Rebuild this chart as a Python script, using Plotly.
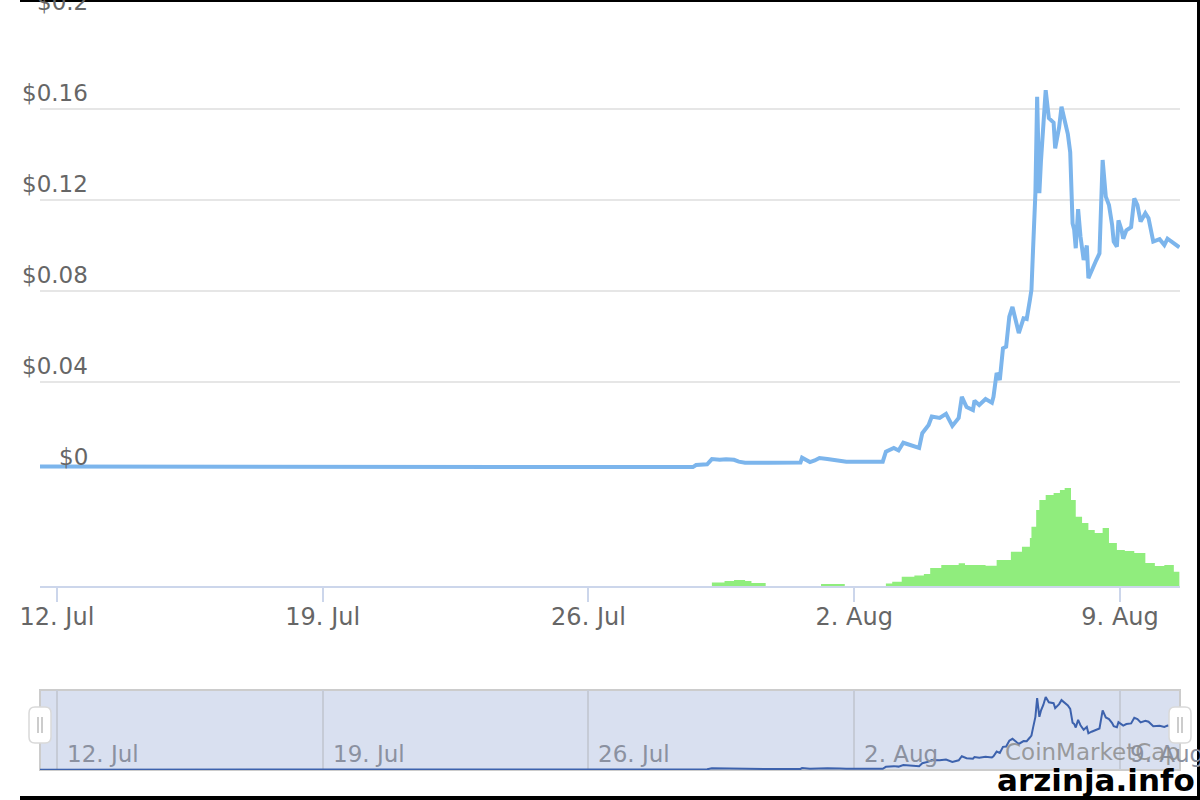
import pandas as pd
import plotly.graph_objects as go

W, H = 1200, 800
base = pd.Timestamp("2018-07-12")

# price readings (hours after 12 Jul 00:00, USD)
price_hours = [-11, 20, 60, 110, 160, 205, 260, 310, 360, 402, 404, 411, 414, 419, 423, 428,
               431, 435, 450, 470, 471, 476, 479, 482, 487, 495, 499, 522, 524, 529, 532,
               535, 540, 545, 547, 551, 553, 558, 562, 566, 570, 572, 575, 579, 580, 583,
               587, 591, 592, 594, 596, 598, 600, 602, 604, 608, 611, 613, 615, 616, 617,
               618.5, 619.6, 621, 622, 623.5, 625, 627, 630, 631, 633.5, 635, 639, 640.5,
               642, 643, 644, 645.5, 647, 649, 651, 652, 654, 657, 659, 661, 663, 665, 667,
               668, 670, 671, 673, 674, 676, 679, 681, 683, 685, 688, 690, 693, 697, 700,
               702, 706, 709.5]
price_usd = [0.0029, 0.0029, 0.0028, 0.0028, 0.0027, 0.0025, 0.0025, 0.0025, 0.0025, 0.0026,
             0.0035, 0.0038, 0.0061, 0.0058, 0.0060, 0.0058, 0.0050, 0.0045, 0.0045, 0.0046,
             0.0067, 0.0048, 0.0055, 0.0066, 0.0062, 0.0054, 0.0050, 0.0050, 0.0094, 0.0110,
             0.0099, 0.0133, 0.0123, 0.0110, 0.0175, 0.0211, 0.0248, 0.0242, 0.0260, 0.0207,
             0.0242, 0.0335, 0.0290, 0.0277, 0.0318, 0.0299, 0.0325, 0.0309, 0.0335, 0.0440,
             0.0409, 0.0548, 0.0555, 0.0687, 0.0730, 0.0615, 0.0680, 0.0677, 0.0760, 0.0805,
             0.0980, 0.1230, 0.1654, 0.1230, 0.1370, 0.1500, 0.1683, 0.1560, 0.1540, 0.1427,
             0.1520, 0.1610, 0.1490, 0.1410, 0.1097, 0.1070, 0.0988, 0.1160, 0.1040, 0.0936,
             0.1000, 0.0856, 0.0892, 0.0936, 0.0965, 0.1376, 0.1215, 0.1178, 0.1090, 0.1017,
             0.0995, 0.1110, 0.1067, 0.1030, 0.1067, 0.1081, 0.1207, 0.1178, 0.1105, 0.1142,
             0.1120, 0.1017, 0.1028, 0.1002, 0.1030, 0.1008, 0.0992]

# 24h volume readings (step start hours, USD)
vol_hours = [-11, 414, 422, 428, 435, 439, 448, 483, 498, 524, 528, 534, 542, 548, 552, 559,
             570, 574, 587, 594, 603, 610, 615, 616, 619, 621, 625, 630, 634, 637, 641, 644,
             648, 652, 656, 661, 665, 670, 675, 681, 688, 694, 700, 706, 709.5]
vol_usd = [0, 62e3, 88e3, 106e3, 88e3, 53e3, 0, 35e3, 0, 44e3, 76e3, 165e3, 186e3, 212e3,
           319e3, 372e3, 402e3, 372e3, 359e3, 460e3, 607e3, 696e3, 850e3, 1050e3, 1345e3,
           1522e3, 1611e3, 1646e3, 1699e3, 1735e3, 1522e3, 1227e3, 1115e3, 991e3, 938e3,
           1027e3, 761e3, 637e3, 619e3, 584e3, 407e3, 354e3, 372e3, 253e3, 253e3]

tick_dates = ["2018-07-12", "2018-07-19", "2018-07-26", "2018-08-02", "2018-08-09"]
tick_text = ["12. Jul", "19. Jul", "26. Jul", "2. Aug", "9. Aug"]
price_ticks = [0, 0.04, 0.08, 0.12, 0.16, 0.2]
price_tick_text = ["$0", "$0.04", "$0.08", "$0.12", "$0.16", "$0.2"]

price_time = base + pd.to_timedelta(price_hours, unit="h")
vol_time = base + pd.to_timedelta(vol_hours, unit="h")
x_range = [base + pd.Timedelta(hours=-10.7), base + pd.Timedelta(hours=709.9)]

# the page photo comes out shifted ~20px right and squeezed to 1180px wide,
# so horizontal positions are mapped back before use
SHIFT, SQUEEZE = 20, 1180 / 1200


def px(x):
    return max(0.0, (x - SHIFT) / SQUEEZE) / W


def py(y):
    return 1 - y / H


FONT = "DejaVu Sans"

fig = go.Figure()
fig.add_trace(go.Scatter(x=price_time, y=price_usd, mode="lines",
                         line=dict(color="#7cb5ec", width=4), xaxis="x", yaxis="y"))
fig.add_trace(go.Scatter(x=vol_time, y=vol_usd, mode="lines", line_shape="hv",
                         line=dict(width=0, color="#90ed7d"), fill="tozeroy",
                         fillcolor="#90ed7d", xaxis="x2", yaxis="y2"))
fig.add_trace(go.Scatter(x=price_time, y=price_usd, mode="lines",
                         line=dict(color="#3d62ad", width=2), xaxis="x3", yaxis="y3"))

dom_x = [px(40), px(1180)]
fig.update_layout(
    width=W, height=H, margin=dict(l=0, r=0, t=0, b=0),
    paper_bgcolor="white", plot_bgcolor="rgba(0,0,0,0)", showlegend=False,
    font=dict(family=FONT, color="#666666"),
    xaxis=dict(domain=dom_x, anchor="y", range=x_range, showticklabels=False,
               showgrid=False, zeroline=False, showline=False, ticks=""),
    yaxis=dict(domain=[py(473), py(18)], anchor="x", range=[0, 0.2], tickvals=price_ticks,
               showticklabels=False, showgrid=True, gridcolor="#e6e6e6", gridwidth=2,
               zeroline=False, showline=False, ticks=""),
    xaxis2=dict(domain=dom_x, anchor="y2", range=x_range, tickvals=tick_dates,
                ticktext=tick_text, showgrid=False, zeroline=False, showline=True,
                linecolor="#ccd6eb", linewidth=2, ticks="outside", ticklen=14,
                tickcolor="#ccd6eb", tickwidth=2, ticklabelstandoff=-6,
                tickfont=dict(size=24, color="#666666", family=FONT)),
    yaxis2=dict(domain=[py(586), py(473)], anchor="x2", range=[0, 2e6], visible=False),
    xaxis3=dict(domain=dom_x, anchor="y3", range=x_range, tickvals=tick_dates,
                showticklabels=False, showgrid=True, gridcolor="#c6cbd6", gridwidth=1.5,
                zeroline=False, showline=False, ticks=""),
    yaxis3=dict(domain=[py(770), py(690)], anchor="x3", range=[0.0022, 0.184], visible=False),
)

shapes = []
# navigator mask
shapes.append(dict(type="rect", xref="paper", yref="paper", x0=px(40), x1=px(1180),
                   y0=py(770), y1=py(690), fillcolor="rgba(102,133,194,0.25)",
                   line=dict(color="#cccccc", width=2), layer="below"))


def handle(cx):
    x0, x1, y0, y1, r = cx - 11, cx + 11, 707, 743, 6
    pts = (f"M {px(x0 + r)},{py(y0)} L {px(x1 - r)},{py(y0)} "
           f"Q {px(x1)},{py(y0)} {px(x1)},{py(y0 + r)} L {px(x1)},{py(y1 - r)} "
           f"Q {px(x1)},{py(y1)} {px(x1 - r)},{py(y1)} L {px(x0 + r)},{py(y1)} "
           f"Q {px(x0)},{py(y1)} {px(x0)},{py(y1 - r)} L {px(x0)},{py(y0 + r)} "
           f"Q {px(x0)},{py(y0)} {px(x0 + r)},{py(y0)} Z")
    out = [dict(type="path", xref="paper", yref="paper", path=pts, fillcolor="white",
                line=dict(color="#d9d9d9", width=1.5))]
    for dx in (-2, 2):
        out.append(dict(type="line", xref="paper", yref="paper", x0=px(cx + dx),
                        x1=px(cx + dx), y0=py(717), y1=py(733),
                        line=dict(color="#aaaaaa", width=1.2)))
    return out


shapes += handle(40) + handle(1180)

# black frame (right, top, bottom edges)
for x0, x1, y0, y1 in [(1197, 1200, 0, 800), (20, 1200, 0, 2), (20, 1200, 796, 800)]:
    shapes.append(dict(type="rect", xref="paper", yref="paper", x0=px(x0), x1=px(x1),
                       y0=py(y1), y1=py(y0), fillcolor="black", line=dict(width=0)))
fig.update_layout(shapes=shapes)

ann = []
for v, t in zip(price_ticks, price_tick_text):
    ann.append(dict(text=t, xref="paper", x=px(90), xanchor="right", yref="y", y=v,
                    yanchor="bottom", yshift=1, showarrow=False,
                    font=dict(size=23, color="#666666", family=FONT)))
for d, t in zip(tick_dates, tick_text):
    ann.append(dict(text=t, xref="x3", x=d, xanchor="left", xshift=8, yref="paper",
                    y=py(754), yanchor="middle", showarrow=False,
                    font=dict(size=23, color="#8b91a0", family=FONT)))
ann.append(dict(text="CoinMarketCap", xref="paper", x=px(1003), xanchor="left",
                yref="paper", y=py(752), yanchor="middle", showarrow=False,
                font=dict(size=23, color="rgba(140,140,140,0.85)", family=FONT)))
ann.append(dict(text="<b>arzinja.info</b>", xref="paper", x=px(1197), xanchor="right",
                yref="paper", y=py(800), yanchor="bottom", showarrow=False,
                font=dict(size=31, color="black", family=FONT)))
fig.update_layout(annotations=ann)

fig.write_html(
    "out.html",
    config={"displayModeBar": False},
    post_script=("var gd=document.getElementById('{plot_id}');"
                 "document.documentElement.style.overflow='hidden';"
                 "document.body.style.margin='0';document.body.style.padding='0';"
                 "gd.style.position='fixed';gd.style.left='0px';gd.style.top='0px';"),
)
